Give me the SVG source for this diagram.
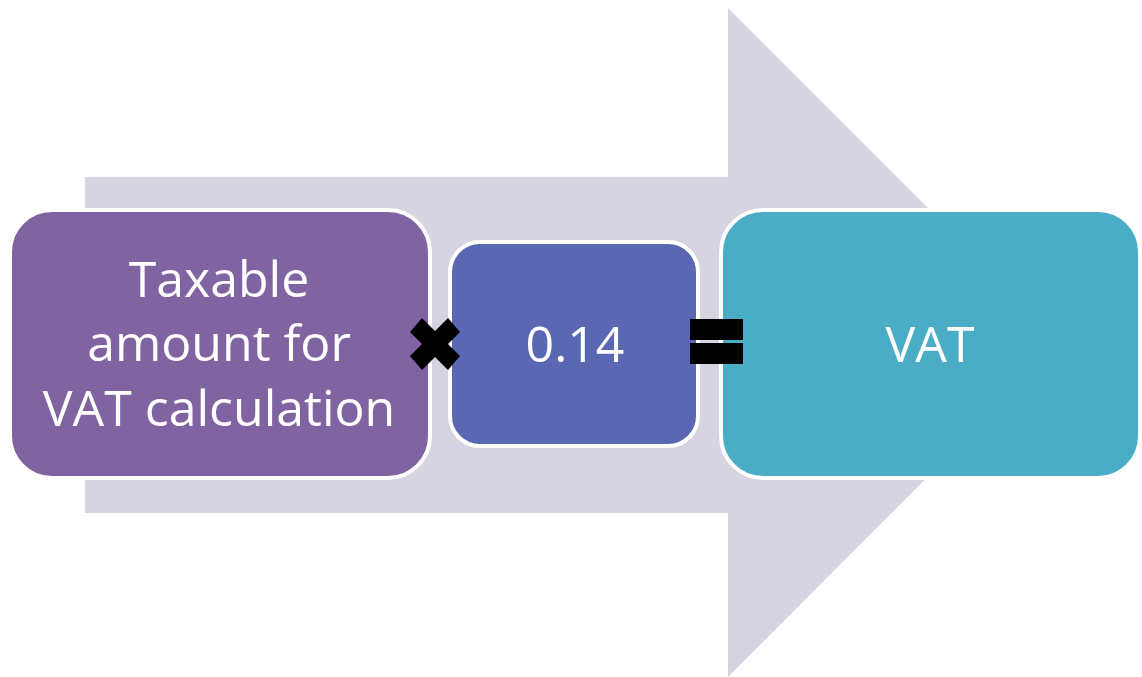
<svg xmlns="http://www.w3.org/2000/svg" width="1142" height="677" viewBox="0 0 1142 677">
<style>
.box{stroke:#fff;stroke-width:4}
.t{font-family:"Open Sans","Liberation Sans",sans-serif;font-size:50px;fill:#fff;text-anchor:middle}
</style>
<rect width="1142" height="677" fill="#fff"/>
<g id="arrow">
<path d="M85 177 H728 V8 L1062 342 L728 677 V513 H85 Z" fill="#d7d4e2"/>
</g>
<g id="node-taxable">
<rect class="box" x="10" y="210" width="420" height="268" rx="42" fill="#8064a2"/>
<text class="t" x="219" y="297">Taxable</text>
<text class="t" x="219" y="361">amount for</text>
<text class="t" x="219" y="426">VAT calculation</text>
</g>
<g id="node-rate">
<rect class="box" x="450" y="242" width="248" height="204" rx="30" fill="#5a67b2"/>
<text class="t" x="575" y="362">0.14</text>
</g>
<g id="node-vat">
<rect class="box" x="721" y="210" width="419" height="268" rx="42" fill="#4bacc6"/>
<text class="t" x="930" y="362">VAT</text>
</g>
<g id="connectors">
<path d="M410 332 L422 318 L435 331 L448 318 L460 332 L448 344 L460 356 L448 370 L435 357 L422 370 L410 356 L422 344 Z" fill="#000"/>
<rect x="690" y="319" width="53" height="21" fill="#000"/>
<rect x="690" y="343" width="53" height="21" fill="#000"/>
</g>
</svg>
